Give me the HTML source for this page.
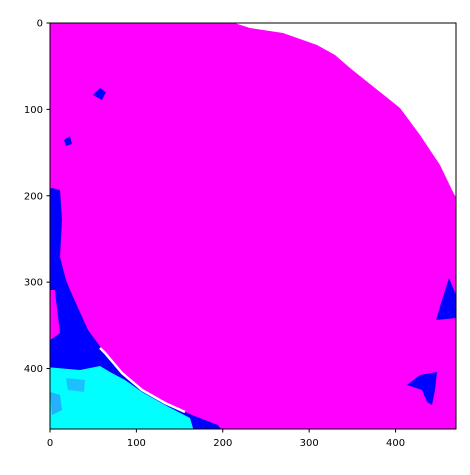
<!DOCTYPE html>
<html><head><meta charset="utf-8"><style>
body{margin:0;background:#fff;width:470px;height:470px;overflow:hidden}
text{font-family:"DejaVu Sans","Liberation Sans",sans-serif;font-size:10px;fill:#000}
</style></head><body>
<svg id="chart" width="470" height="470" xmlns="http://www.w3.org/2000/svg">
<defs><clipPath id="ax"><rect x="50" y="23" width="406" height="406"/></clipPath></defs>
<g clip-path="url(#ax)">
<rect x="50" y="23" width="406" height="406" fill="#ff00ff"/>
<path d="M225,20 L250,28 L283,33 L317,45 L335,55 L350,68 L380,92 L400,108 L420,135 L440,165 L452,190 L460,205 L460,20 Z" fill="#ffffff"/>
<path d="M45,190 L52,188 L60,190 L62,220 L60,257 L66,280 L70,290 L88,330 L105,353 L122,373 L142,390 L165,403 L192,415 L218,425 L225,435 L45,435 Z" fill="#0000ff"/>
<path d="M45,290 L55,290 L56,300 L60,333 L53,338 L50,340 L45,340 Z" fill="#ff00ff"/>
<path d="M45,367 L80,370 L100,366 L110,372 L125,380 L142,392 L165,405 L190,418 L195,435 L45,435 Z" fill="#00ffff"/>
<path d="M100,348 L105,353 L122,373 L142,390 L165,403 L185,412" fill="none" stroke="#ffffff" stroke-width="2.5"/>
<polygon points="50,392 60,395 62,410 52,415" fill="#4070ff" opacity="0.55"/>
<polygon points="66,378 85,380 84,392 68,390" fill="#4070ff" opacity="0.45"/>
<polygon points="449,278 456,295 456,318 436,320 442,300" fill="#0000ff"/>
<polygon points="407,385 420,375 437,372 435,390 432,405 427,402 422,390" fill="#0000ff"/>
<polygon points="93,95 100,88 106,92 102,100" fill="#0000ff"/>
<polygon points="64,140 70,136 72,144 66,146" fill="#0000ff"/>
</g>
<rect x="50" y="23" width="406" height="406" fill="none" stroke="#000" stroke-width="1"/>
<g id="ticks"></g>
</svg>
<script>
const xTicks=[0,100,200,300,400];
const yTicks=[0,100,200,300,400];
const x0=50,y0=23,s=406/470;
const g=document.getElementById('ticks');
const NS='http://www.w3.org/2000/svg';
function mk(t,a){const e=document.createElementNS(NS,t);for(const k in a)e.setAttribute(k,a[k]);g.appendChild(e);return e;}
xTicks.forEach(v=>{const x=x0+v*s;
 const l=mk('line',{x1:x,x2:x,y1:429,y2:432.5,stroke:'#000'});
 
 
 const t=mk('text',{x:x,y:446,'text-anchor':'middle'});t.textContent=v;
 
 
});
yTicks.forEach(v=>{const y=y0+v*s;
 const l=mk('line',{x1:46.5,x2:50,y1:y,y2:y,stroke:'#000'});
 
 
 const t=mk('text',{x:43,y:y+3.5,'text-anchor':'end'});t.textContent=v;
 
 
});
</script>
</body></html>
